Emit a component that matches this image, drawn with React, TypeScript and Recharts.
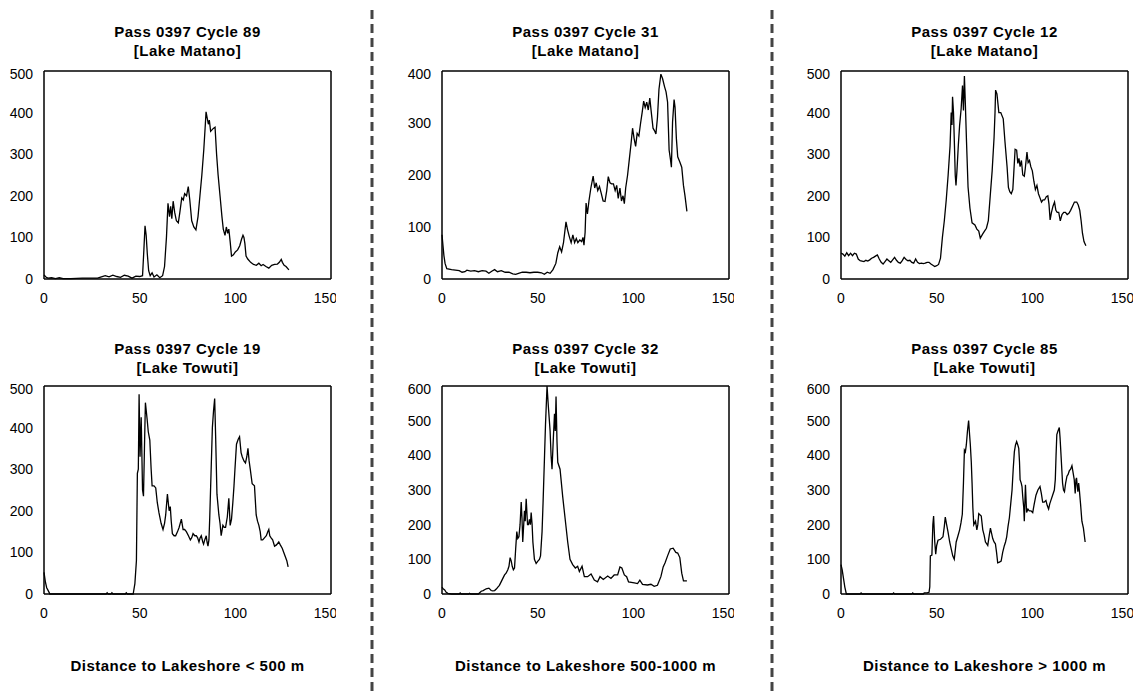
import { Line, LineChart, XAxis, YAxis } from "recharts";

// tick values
const xTicks = [0, 50, 100, 150];
const yTicks400 = [0, 100, 200, 300, 400];
const yTicks500 = [0, 100, 200, 300, 400, 500];
const yTicks600 = [0, 100, 200, 300, 400, 500, 600];

const captions = [
  "Distance to Lakeshore < 500 m",
  "Distance to Lakeshore 500-1000 m",
  "Distance to Lakeshore > 1000 m",
];

// Pass 0397 Cycle 89 [Lake Matano]
const c89X = [0, 1, 2, 4, 6, 8, 10, 14, 20, 28, 30, 32, 34, 36, 38, 40, 42, 44, 46, 48, 50, 51.5, 52.2, 52.8, 53.4, 54, 54.7, 55.5, 56.5, 57.5, 59, 60.5, 62, 63, 64, 64.8, 65.6, 66.2, 66.8, 67.5, 68.3, 69.2, 70.2, 71, 72, 72.8, 73.5, 74.5, 75.4, 76.2, 77.2, 78.3, 79.4, 80.5, 81.5, 82.5, 83.5, 84.3, 84.7, 85.9, 86.4, 87.1, 88.5, 89.4, 90.2, 91, 92, 93, 93.7, 94.6, 95.3, 96, 96.6, 97.3, 98, 99, 100, 101.2, 102.3, 103.2, 104, 104.5, 105, 105.6, 106.5, 108, 109.5, 111, 112.3, 113.5, 114.5, 116, 117.5, 119, 120.5, 122, 123, 124, 124.6, 125.5, 126.5, 128];
const c89Y = [10, 5, 2, 3, 1, 3, 1, 1, 2, 2, 5, 8, 5, 9, 6, 4, 9, 7, 2, 7, 6, 8, 70, 128, 105, 60, 20, 8, 15, 5, 10, 3, 8, 30, 100, 182, 150, 175, 145, 187, 160, 140, 135, 160, 195, 190, 205, 200, 222, 190, 140, 125, 118, 150, 200, 250, 310, 370, 402, 372, 382, 355, 362, 365, 300, 250, 200, 150, 120, 105, 125, 110, 120, 90, 55, 58, 65, 70, 80, 95, 105, 100, 85, 55, 48, 40, 35, 33, 38, 32, 35, 30, 26, 33, 35, 36, 40, 47, 40, 33, 30, 22];

// Pass 0397 Cycle 31 [Lake Matano]
const c31X = [0, 0.5, 1, 1.6, 2.5, 5, 7, 9, 10.5, 12, 13, 15, 17, 19, 21, 23, 24.5, 26, 27.5, 29, 31, 33, 35, 37, 38.5, 40, 42, 44, 46, 48, 50, 52, 53.5, 55, 56.5, 58, 59.5, 60.5, 61.5, 62.5, 63.5, 64.8, 65.6, 66.5, 67.5, 68.4, 69.3, 70.2, 71, 72, 73, 73.7, 74.2, 74.8, 75.3, 76, 76.8, 77.8, 79, 79.8, 80.6, 81.4, 82.3, 83.2, 84.2, 85.2, 86.1, 86.9, 87.8, 88.6, 89.6, 90.5, 91.3, 92.1, 93, 93.8, 94.6, 95.3, 96, 97, 97.9, 98.8, 99.6, 100.4, 101.2, 102, 102.9, 103.8, 104.6, 105.4, 106.2, 107, 107.8, 108.6, 109.4, 110.3, 111.1, 111.8, 112.6, 113.4, 114.4, 115.3, 116.3, 117.1, 117.9, 118.7, 119.4, 119.9, 120.5, 121.3, 121.8, 122.5, 123.2, 124.3, 125.3, 126.2, 127, 128];
const c31Y = [85, 65, 45, 30, 20, 18, 17, 16, 13, 14, 17, 15, 16, 14, 16, 15, 11, 15, 18, 14, 16, 13, 13, 10, 9, 11, 13, 13, 12, 13, 13, 12, 9, 13, 11, 18, 30, 50, 62, 52, 70, 110, 95, 82, 70, 85, 70, 78, 70, 75, 72, 80, 65, 90, 146, 125, 150, 175, 198, 175, 185, 170, 178, 165, 150, 149, 170, 197, 185, 183, 183, 170, 180, 155, 175, 150, 160, 145, 175, 200, 230, 260, 290, 270, 255, 280, 275, 300, 320, 342, 330, 340, 325, 348, 320, 290, 285, 279, 310, 365, 394, 385, 370, 360, 340, 248, 230, 215, 302, 345, 330, 270, 235, 225, 215, 180, 160, 130];

// Pass 0397 Cycle 12 [Lake Matano]
const c12X = [0, 1, 2, 3, 4, 5, 6, 7, 8, 9, 10, 11, 12, 13, 14, 15, 16, 17, 18, 19, 20, 21, 22, 23, 24, 25, 26, 27, 28, 29, 30, 31, 32, 33, 34, 35, 36, 37, 38, 39, 40, 41, 42, 43, 44, 45, 46, 47, 48, 49, 50, 51, 52, 53, 54, 55, 56, 57, 57.6, 58, 58.3, 58.8, 59.3, 59.7, 60.1, 60.6, 61.3, 62, 62.8, 63.5, 64, 64.5, 65, 65.6, 66.4, 67.4, 68.5, 70, 71, 72, 72.8, 74, 75, 76, 77, 78, 79, 80, 80.5, 80.8, 81.5, 82.5, 83.5, 84.8, 85.7, 86.8, 87.5, 88.2, 89, 89.8, 90.3, 91, 91.8, 92.4, 93, 93.6, 94.3, 95, 95.8, 96.3, 97.2, 97.8, 98.5, 99.2, 100, 100.8, 101.6, 102.4, 103.2, 104, 104.8, 105.6, 106.4, 107.3, 108.1, 108.7, 109.3, 110, 110.8, 111.6, 112.3, 113, 113.8, 114.6, 115.5, 116.4, 117.3, 118.2, 119.1, 120, 121, 122, 123.2, 124, 124.8, 125.5, 126.2, 127, 128];
const c12Y = [62, 60, 55, 63, 56, 62, 56, 62, 60, 48, 44, 43, 42, 45, 43, 46, 50, 52, 55, 58, 48, 40, 36, 42, 48, 44, 40, 46, 52, 45, 40, 38, 44, 52, 47, 44, 45, 40, 38, 48, 40, 37, 38, 37, 38, 40, 40, 36, 33, 30, 32, 35, 50, 100, 140, 190, 250, 320, 400, 370, 438, 400, 320, 250, 225, 260, 320, 370, 410, 465, 405, 488, 420, 330, 221, 170, 135, 130, 120, 115, 98, 108, 115, 122, 140, 200, 260, 340, 400, 454, 445, 400, 400, 385, 330, 270, 220, 210, 205, 215, 255, 312, 310, 278, 290, 270, 285, 250, 247, 265, 305, 280, 285, 270, 260, 235, 215, 225, 205, 195, 185, 190, 190, 198, 200, 180, 142, 160, 175, 185, 165, 160, 160, 140, 155, 160, 160, 155, 158, 165, 175, 185, 185, 178, 165, 140, 110, 90, 80];

// Pass 0397 Cycle 19 [Lake Towuti]
const c19X = [0, 0.7, 1.4, 2.2, 3.1, 32.5, 33, 33.5, 35, 35.5, 36, 42.5, 43, 43.5, 46.6, 47.5, 48.3, 48.8, 49.3, 49.7, 50.2, 50.8, 51.5, 52, 52.5, 53, 53.9, 54.5, 55.3, 56, 56.5, 57.5, 58.4, 59.2, 60.1, 61.2, 62.2, 63, 63.6, 64.5, 65.4, 66, 66.5, 67.1, 68, 68.8, 69.8, 70.6, 71.8, 72.7, 73.5, 74.4, 75.5, 76.5, 77.2, 77.9, 78.8, 79.6, 80.3, 81, 81.6, 82.2, 83, 83.4, 84, 84.8, 85.2, 85.7, 86.2, 86.6, 87.3, 88, 88.6, 89.2, 89.7, 90.4, 91.4, 92, 92.6, 93.5, 94.2, 94.9, 95.8, 96.6, 97.3, 98, 98.7, 99.3, 99.8, 100.6, 101.5, 102.2, 103, 103.6, 104.5, 105.3, 106, 106.6, 107.2, 107.8, 108.8, 110, 110.9, 111.6, 112.3, 113, 113.5, 114.3, 115.2, 116.2, 117, 117.5, 118, 118.7, 119.5, 120.5, 121.5, 122.7, 123.5, 124.5, 125.7, 126.9, 127.6];
const c19Y = [52, 30, 15, 8, 0, 0, 3, 0, 0, 3, 0, 0, 3, 0, 0, 25, 80, 290, 300, 480, 330, 425, 250, 235, 350, 460, 420, 390, 370, 300, 260, 260, 255, 220, 195, 170, 155, 170, 190, 240, 200, 210, 175, 145, 140, 140, 150, 160, 180, 155, 155, 150, 140, 130, 135, 145, 140, 140, 135, 125, 135, 140, 125, 120, 130, 140, 125, 115, 130, 180, 290, 400, 440, 470, 380, 240, 190, 170, 140, 165, 160, 160, 185, 230, 165, 180, 220, 260, 300, 360, 372, 378, 340, 330, 320, 315, 330, 350, 320, 300, 265, 260, 190, 175, 165, 150, 130, 130, 135, 140, 150, 155, 140, 135, 130, 115, 118, 125, 118, 110, 95, 80, 65];

// Pass 0397 Cycle 32 [Lake Towuti]
const c32X = [0, 0.6, 1.4, 2.2, 3.1, 5, 9, 9.5, 10, 14, 14.4, 15, 19, 20.5, 21.5, 23.1, 24.5, 25.7, 26.5, 27.5, 28.5, 29.2, 30, 30.9, 31.8, 32.7, 33.5, 34.4, 35, 35.6, 36.2, 36.7, 37.3, 37.9, 38.5, 39.1, 39.6, 40.2, 40.8, 41.4, 41.8, 42.2, 42.7, 43.1, 43.5, 44, 44.7, 45.2, 45.7, 46.2, 46.6, 47.1, 47.5, 48.3, 49.2, 50.1, 50.9, 51.5, 52.3, 52.8, 53.2, 53.6, 54.1, 54.9, 55.6, 56.5, 57, 57.5, 58.2, 58.8, 59.2, 59.6, 60.1, 60.5, 61.7, 63.1, 64.3, 65.7, 66.9, 68.3, 69.7, 70.9, 71.8, 73.2, 74.4, 76.1, 77.9, 79.6, 81.3, 82.6, 84.3, 86.6, 88.3, 90, 91.8, 93, 94, 95.3, 96.5, 97.5, 100.5, 102.2, 103.4, 104.8, 107.4, 109.2, 110.9, 112.6, 114.4, 115.6, 116.6, 117.9, 119.3, 120.8, 122.2, 123.2, 124.3, 125.3, 126.2, 128];
const c32Y = [20, 15, 12, 5, 2, 0, 0, 3, 0, 0, 2, 0, 0, 8, 10, 15, 17, 10, 9, 10, 15, 20, 25, 35, 45, 55, 60, 70, 80, 105, 95, 80, 70, 75, 130, 180, 160, 165, 200, 265, 220, 150, 200, 240, 210, 275, 200, 200, 215, 200, 235, 200, 150, 100, 88, 95, 100, 110, 180, 260, 330, 400, 490, 600, 540, 470, 400, 360, 450, 520, 470, 570, 440, 380, 360, 280, 220, 150, 100, 85, 75, 80, 65, 80, 50, 50, 58, 40, 35, 50, 42, 52, 45, 55, 55, 78, 75, 55, 50, 35, 32, 30, 40, 28, 26, 28, 22, 25, 50, 78, 90, 110, 130, 132, 120, 118, 105, 60, 38, 38];

// Pass 0397 Cycle 85 [Lake Towuti]
const c85X = [0, 0.6, 1.3, 2, 2.8, 10, 10.5, 11, 27, 27.5, 28, 37, 37.5, 38, 43, 43.5, 45, 46, 46.4, 46.7, 47.5, 48, 48.4, 49, 49.5, 50, 50.7, 52, 53.3, 54, 54.5, 55.2, 55.9, 56.8, 57.6, 58.4, 59.2, 60.2, 61, 62, 62.7, 63.4, 64, 64.5, 65, 65.5, 66.1, 66.7, 67.2, 67.6, 68.1, 68.5, 68.9, 69.4, 70.3, 71, 71.5, 72, 73.3, 74.1, 74.8, 75.5, 76.1, 76.7, 77.5, 78.1, 78.7, 79.3, 80, 80.7, 81.3, 81.9, 82.8, 83.7, 84.5, 85.4, 86, 86.6, 87.3, 88, 88.7, 89.4, 90, 90.6, 91.2, 91.8, 92.4, 92.9, 93.3, 93.6, 94.2, 94.6, 95, 95.5, 95.8, 96.4, 97, 97.7, 98.4, 99.3, 100.2, 101, 101.9, 102.9, 104, 104.7, 105.4, 106.2, 107.1, 107.8, 108.5, 109.1, 109.7, 110.9, 111.5, 112, 112.4, 112.8, 113.4, 114.1, 114.5, 114.9, 115.4, 115.8, 116.3, 116.8, 117.4, 118.1, 118.7, 119.3, 120, 120.7, 121.3, 121.9, 122.4, 122.8, 123.1, 123.5, 123.8, 124.2, 124.5, 125.2, 125.9, 126.7, 127.6];
const c85Y = [85, 70, 45, 20, 0, 0, 3, 0, 0, 3, 0, 0, 3, 0, 0, 3, 3, 5, 20, 110, 112, 200, 225, 150, 115, 140, 155, 158, 165, 195, 222, 200, 180, 150, 130, 110, 100, 150, 165, 185, 205, 230, 320, 415, 410, 430, 470, 500, 460, 430, 380, 320, 250, 200, 210, 185, 200, 232, 225, 185, 170, 150, 145, 140, 170, 190, 175, 160, 150, 145, 120, 90, 92, 95, 120, 140, 150, 165, 195, 220, 260, 300, 360, 410, 430, 440, 430, 420, 380, 330, 320, 310, 280, 250, 210, 315, 235, 245, 240, 240, 235, 260, 285, 300, 310, 290, 265, 265, 270, 255, 245, 260, 270, 290, 300, 330, 400, 460, 470, 480, 450, 410, 360, 320, 300, 295, 320, 340, 345, 355, 360, 370, 350, 330, 290, 330, 335, 310, 295, 320, 305, 260, 210, 190, 150];

const toRows = (xs: number[], ys: number[]) => xs.map((x, i) => ({ x, y: ys[i] }));

const panels = [
  { title: "Pass 0397 Cycle 89", lake: "[Lake Matano]", xs: c89X, ys: c89Y, yTicks: yTicks500, col: 0, row: 0 },
  { title: "Pass 0397 Cycle 31", lake: "[Lake Matano]", xs: c31X, ys: c31Y, yTicks: yTicks400, col: 1, row: 0 },
  { title: "Pass 0397 Cycle 12", lake: "[Lake Matano]", xs: c12X, ys: c12Y, yTicks: yTicks500, col: 2, row: 0 },
  { title: "Pass 0397 Cycle 19", lake: "[Lake Towuti]", xs: c19X, ys: c19Y, yTicks: yTicks500, col: 0, row: 1 },
  { title: "Pass 0397 Cycle 32", lake: "[Lake Towuti]", xs: c32X, ys: c32Y, yTicks: yTicks600, col: 1, row: 1 },
  { title: "Pass 0397 Cycle 85", lake: "[Lake Towuti]", xs: c85X, ys: c85Y, yTicks: yTicks600, col: 2, row: 1 },
];

const plotLefts = [44, 442, 841];
const plotTops = [71, 386];
const titleTops = [32, 349];
const PLOT_W = 287;
const PLOT_H = 208;
const Y_AXIS_W = 40;
const FONT = "'Liberation Sans', Arial, sans-serif";

const textStyle = (cx: number, cy: number): React.CSSProperties => ({
  position: "absolute",
  left: cx - 200,
  top: cy - 9,
  width: 400,
  lineHeight: "18px",
  textAlign: "center",
  fontFamily: FONT,
  fontSize: 15,
  letterSpacing: 0.5,
  fontWeight: "bold",
  color: "#000",
});

interface PanelProps {
  xs: number[];
  ys: number[];
  yTicks: number[];
  left: number;
  top: number;
}

const Panel = ({ xs, ys, yTicks, left, top }: PanelProps) => {
  const yMax = yTicks[yTicks.length - 1];
  const tickStyle = { fill: "#000", fontSize: 14, fontFamily: FONT };
  const axisStyle = { stroke: "#000", strokeWidth: 1.5 };
  return (
    <div style={{ position: "absolute", left: left - Y_AXIS_W, top: top - 5 }}>
      <LineChart
        width={Y_AXIS_W + PLOT_W + 5}
        height={PLOT_H + 35}
        data={toRows(xs, ys)}
        margin={{ top: 5, right: 5, bottom: 0, left: 0 }}
      >
        <XAxis
          xAxisId="b"
          dataKey="x"
          type="number"
          domain={[0, 150]}
          ticks={xTicks}
          height={30}
          tickLine={false}
          tickMargin={8}
          axisLine={axisStyle}
          tick={tickStyle}
        />
        <XAxis
          xAxisId="t"
          dataKey="x"
          type="number"
          orientation="top"
          mirror
          domain={[0, 150]}
          ticks={xTicks}
          height={10}
          tick={false}
          tickSize={4}
          axisLine={axisStyle}
          tickLine={{ stroke: "#000" }}
        />
        <YAxis
          yAxisId="l"
          type="number"
          domain={[0, yMax]}
          ticks={yTicks}
          width={Y_AXIS_W}
          tickLine={false}
          tickMargin={5}
          axisLine={axisStyle}
          tick={tickStyle}
        />
        <YAxis
          yAxisId="r"
          type="number"
          orientation="right"
          mirror
          domain={[0, yMax]}
          ticks={yTicks}
          width={10}
          tick={false}
          tickSize={4}
          axisLine={axisStyle}
          tickLine={{ stroke: "#000" }}
        />
        <Line
          xAxisId="b"
          yAxisId="l"
          dataKey="y"
          type="linear"
          stroke="#000"
          strokeWidth={1.3}
          dot={false}
          activeDot={false}
          isAnimationActive={false}
        />
      </LineChart>
    </div>
  );
};

export default function App() {
  return (
    <div style={{ position: "absolute", left: 0, top: 0, width: 1143, height: 693, background: "#fff" }}>
      <svg width={1143} height={693} style={{ position: "absolute", left: 0, top: 0 }}>
        {[372, 772].map((x) => (
          <line key={x} x1={x} x2={x} y1={10} y2={693} stroke="#444" strokeWidth={3} strokeDasharray="9 5" />
        ))}
      </svg>
      {panels.map((p) => {
        const cx = plotLefts[p.col] + PLOT_W / 2;
        return (
          <div key={p.title}>
            <div style={textStyle(cx, titleTops[p.row])}>{p.title}</div>
            <div style={textStyle(cx, titleTops[p.row] + 19)}>{p.lake}</div>
            <Panel xs={p.xs} ys={p.ys} yTicks={p.yTicks} left={plotLefts[p.col]} top={plotTops[p.row]} />
          </div>
        );
      })}
      {captions.map((c, i) => (
        <div key={c} style={textStyle(plotLefts[i] + PLOT_W / 2, 666)}>
          {c}
        </div>
      ))}
    </div>
  );
}
